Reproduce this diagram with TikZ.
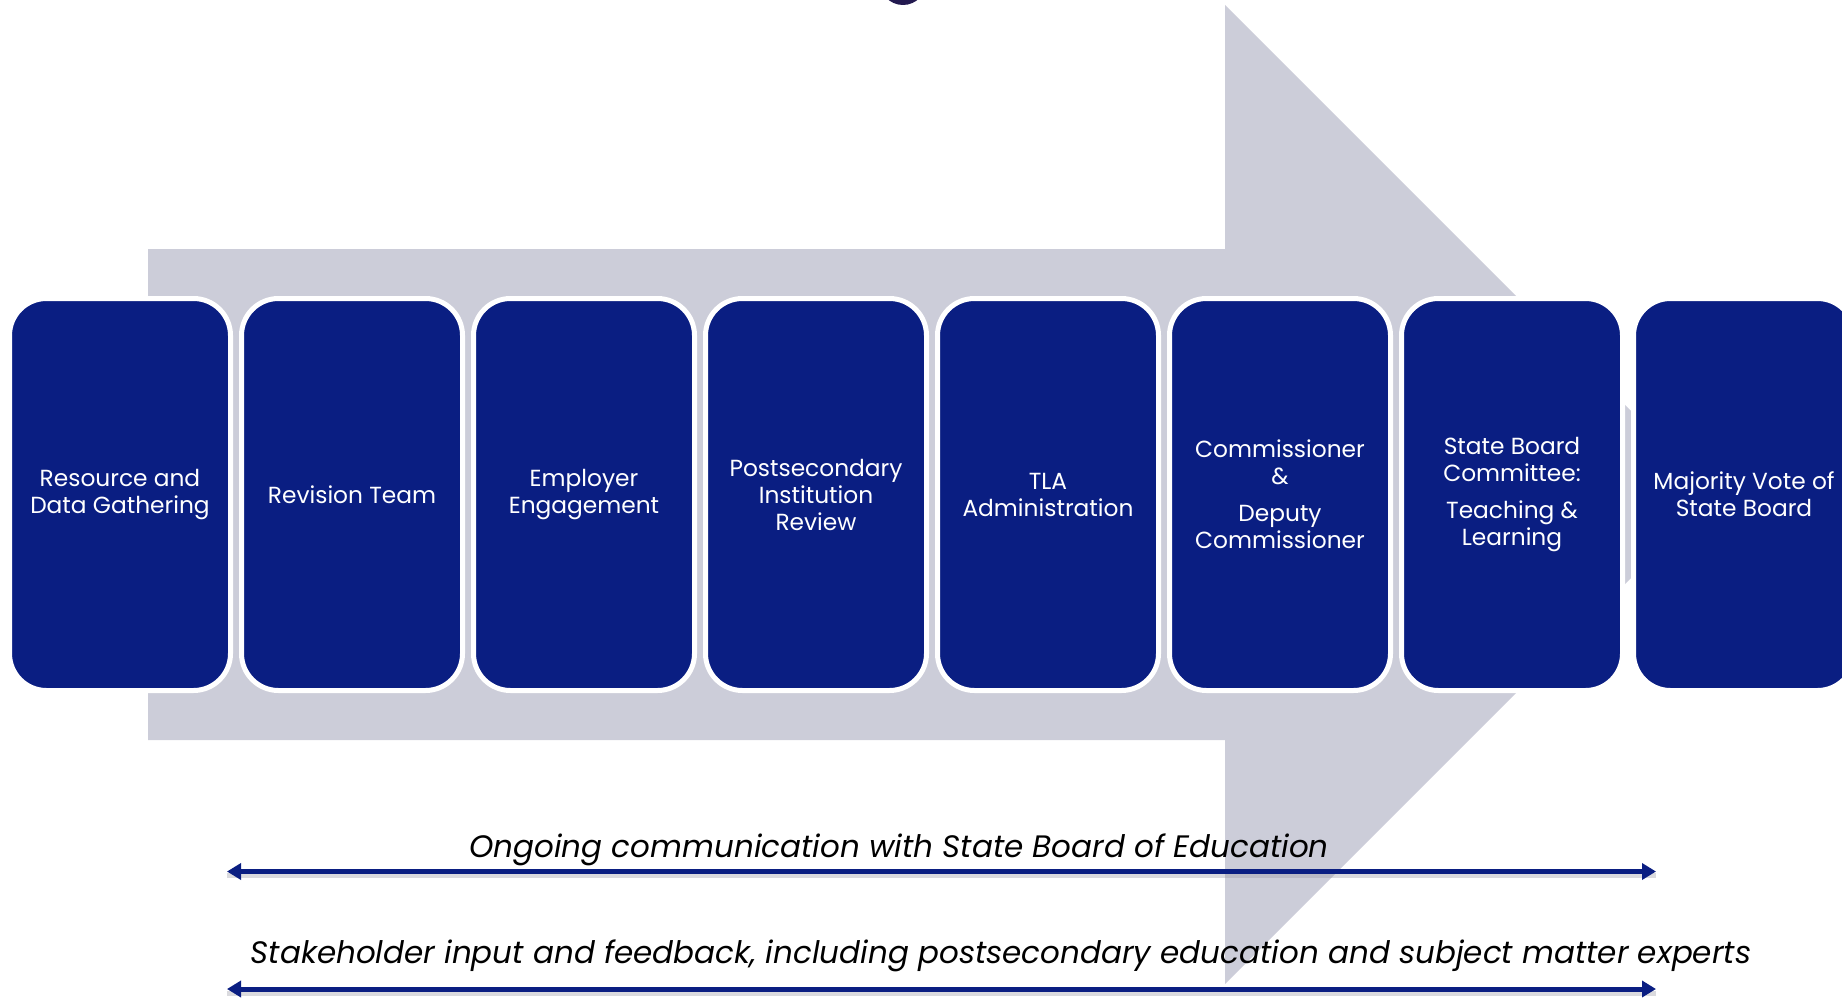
\documentclass[tikz,border=0pt]{standalone}
\usepackage{fontspec}
\setmainfont{Poppins}
\usetikzlibrary{arrows.meta}
\definecolor{navy}{RGB}{10,30,130}
\definecolor{arrowgray}{RGB}{204,205,217}
\definecolor{topdark}{RGB}{35,25,80}
\definecolor{shadowgray}{RGB}{150,150,160}
\tikzset{
  stepbox/.style={fill=navy, draw=white, line width=5pt, rounded corners=37pt,
    minimum width=221pt, minimum height=392pt, inner sep=0pt, text=white,
    align=center, font=\fontsize{23.3}{27}\selectfont},
  commarrow/.style={draw=navy, line width=5pt,
    {Triangle[length=14pt,width=16pt]}-{Triangle[length=14pt,width=16pt]}},
  commshadow/.style={draw=shadowgray, line width=5pt, opacity=0.35},
  commtext/.style={anchor=base, inner sep=0pt, font=\fontsize{31}{36}\selectfont\itshape}
}
\begin{document}
\begin{tikzpicture}[x=1pt,y=-1pt]
\useasboundingbox (0,0) rectangle (1842,998);
\fill[topdark] (903,-20) ellipse (24 and 25);
\fill[arrowgray] (148,249) -- (1225,249) -- (1225,5) -- (1714.5,494.5) -- (1225,984) -- (1225,740) -- (148,740) -- cycle;
\node[stepbox] (b1) at (120,494.5) {Resource and\\Data Gathering};
\node[stepbox] (b2) at (352,494.5) {Revision Team};
\node[stepbox] (b3) at (584,494.5) {Employer\\Engagement};
\node[stepbox] (b4) at (816,494.5) {Postsecondary\\Institution\\Review};
\node[stepbox] (b5) at (1048,494.5) {TLA\\Administration};
\node[stepbox] (b6) at (1280,494.5) {Commissioner\\\&\\[10pt]Deputy\\Commissioner};
\node[stepbox] (b7) at (1512,494.5) {State Board\\Committee:\\[10pt]Teaching \&\\Learning};
\node[stepbox] (b8) at (1744,494.5) {Majority Vote of\\State Board};
\coordinate (l1) at (227,871.5);
\coordinate (r1) at (1656,871.5);
\coordinate (l2) at (227,989);
\coordinate (r2) at (1656,989);
\draw[commshadow] ([yshift=-4pt]l1) -- ([yshift=-4pt]r1);
\draw[commshadow] ([yshift=-4pt]l2) -- ([yshift=-4pt]r2);
\draw[commarrow] (l1) -- (r1);
\draw[commarrow] (l2) -- (r2);
\node[commtext] (t1) at (899,857) {Ongoing communication with State Board of Education};
\node[commtext] (t2) at (1001,963) {Stakeholder input and feedback, including postsecondary education and subject matter experts};
\end{tikzpicture}
\end{document}
